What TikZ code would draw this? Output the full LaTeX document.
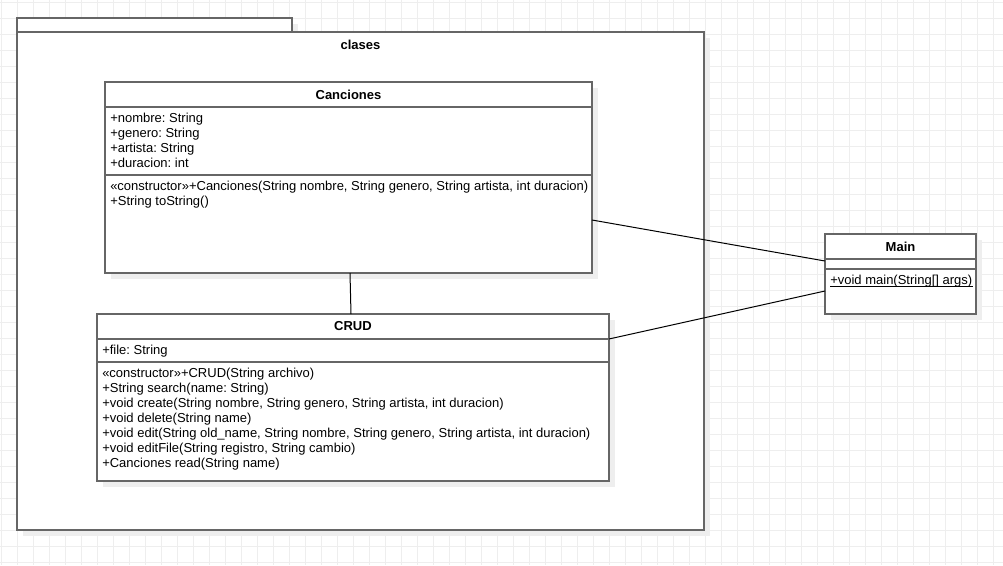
\documentclass[tikz,border=0pt]{standalone}
\usepackage{fontspec}
\setmainfont{Liberation Sans}
\usetikzlibrary{shadows}
\definecolor{umlgray}{HTML}{666666}
\definecolor{gridgray}{HTML}{EEEEEE}
\definecolor{shadowgray}{HTML}{EEEEEE}
\newcommand\px{0.75pt}
\frenchspacing

\begin{document}
\begin{tikzpicture}[x=0.75pt, y=-0.75pt,
    box/.style = {draw=umlgray, line width=1.1pt, fill=white, inner sep=0pt, outer sep=0pt,
                  drop shadow={shadow xshift=6*\px, shadow yshift=-6*\px, fill=shadowgray, opacity=1}},
    sep/.style = {draw=umlgray, line width=1.1pt},
    title/.style = {font=\fontsize{9.75}{11.25}\selectfont\bfseries, inner sep=0pt},
    members/.style = {anchor=base west, align=left, inner sep=0pt, font=\fontsize{9.75}{11.25}\selectfont},
    link/.style = {draw=black, line width=0.75pt}]

    \useasboundingbox[fill=white] (0,0) rectangle (1003,565);
    %grid
    \foreach \i in {0,...,62} \draw[gridgray, line width=0.75pt] (1+16*\i,0) -- (1+16*\i,565);
    \foreach \j in {0,...,35} \draw[gridgray, line width=0.75pt] (0,2.7+16*\j) -- (1003,2.7+16*\j);

    %package
    \node at (154.5,25) [box, minimum width=275*\px, minimum height=14*\px] (tab) {};
    \node at (360.5,281) [box, minimum width=687*\px, minimum height=498*\px] (clases) {};
    \node at (360.5,45) [title] (clases-t) {clases};

    %Canciones (members anchored at the baseline of their last line)
    \node at (348.5,177.5) [box, minimum width=487*\px, minimum height=191*\px] (canciones) {};
    \draw[sep] (105,107) -- (592,107);
    \draw[sep] (105,175) -- (592,175);
    \node at (348.5,94.5) [title] (canciones-t) {Canciones};
    \node at (110,167.5) [members] (canciones-a) {+nombre: String\\+genero: String\\+artista: String\\+duracion: int};
    \node at (110,205.5) [members] (canciones-m) {«constructor»+Canciones(String nombre, String genero, String artista, int duracion)\\+String toString()};

    %CRUD
    \node at (353,397.5) [box, minimum width=512*\px, minimum height=167*\px] (crud) {};
    \draw[sep] (97,339) -- (609,339);
    \draw[sep] (97,362) -- (609,362);
    \node at (353,326.5) [title] (crud-t) {CRUD};
    \node at (102,354.5) [members] (crud-a) {+file: String};
    \node at (102,467.5) [members] (crud-m) {«constructor»+CRUD(String archivo)\\+String search(name: String)\\+void create(String nombre, String genero, String artista, int duracion)\\+void delete(String name)\\+void edit(String old\_name, String nombre, String genero, String artista, int duracion)\\+void editFile(String registro, String cambio)\\+Canciones read(String name)};

    %Main
    \node at (900.5,274) [box, minimum width=151*\px, minimum height=80*\px] (main) {};
    \draw[sep] (825,259) -- (976,259);
    \draw[sep] (825,269) -- (976,269);
    \node at (900.5,246.5) [title] (main-t) {Main};
    \node at (830,284.5) [members] (main-m) {+void main(String[] args)};
    \draw[black, line width=0.75pt] ([yshift=-1.5*\px]main-m.base west) -- ([yshift=-1.5*\px]main-m.base east);

    %links
    \draw[link] ([xshift=1.5*\px]canciones.south) -- ([xshift=-2*\px]crud.north);
    \draw[link] ([yshift=-42.5*\px]canciones.east) -- ([yshift=13*\px]main.west);
    \draw[link] ([yshift=58.5*\px]crud.east) -- ([yshift=-17*\px]main.west);

\end{tikzpicture}
\end{document}
